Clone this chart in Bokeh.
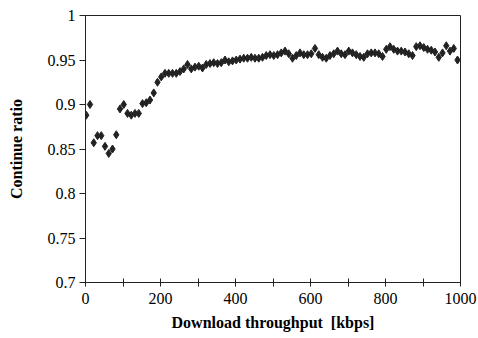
from bokeh.plotting import figure
from bokeh.models import FixedTicker, Range1d
from bokeh.embed import file_html
from bokeh.resources import INLINE

# Data
throughput_kbps = [2 + 10 * i for i in range(100)]
continue_ratio = [
    0.888, 0.900, 0.857, 0.865, 0.865, 0.853, 0.845, 0.850, 0.866, 0.895,
    0.900, 0.890, 0.888, 0.890, 0.890, 0.901, 0.902, 0.905, 0.913, 0.925,
    0.931, 0.935, 0.935, 0.935, 0.935, 0.937, 0.940, 0.945, 0.940, 0.942,
    0.943, 0.941, 0.945, 0.946, 0.947, 0.946, 0.947, 0.950, 0.948, 0.949,
    0.950, 0.951, 0.952, 0.952, 0.953, 0.952, 0.952, 0.953, 0.955, 0.956,
    0.955, 0.956, 0.958, 0.960, 0.957, 0.952, 0.955, 0.958, 0.956, 0.956,
    0.957, 0.963, 0.956, 0.953, 0.952, 0.955, 0.957, 0.960, 0.957, 0.956,
    0.960, 0.958, 0.956, 0.954, 0.953, 0.957, 0.958, 0.958, 0.957, 0.954,
    0.962, 0.965, 0.962, 0.960, 0.960, 0.959, 0.957, 0.955, 0.965, 0.966,
    0.964, 0.962, 0.961, 0.959, 0.953, 0.958, 0.966, 0.960, 0.963, 0.950,
]
x_ticks = [0, 200, 400, 600, 800, 1000]
x_minor = [100, 300, 500, 700, 900]
y_ticks = [0.7, 0.75, 0.8, 0.85, 0.9, 0.95, 1.0]
y_tick_labels = ["0.7", "0.75", "0.8", "0.85", "0.9", "0.95", "1"]

FONT = "Liberation Serif"

p = figure(width=478, height=338, output_backend="svg", toolbar_location=None,
           x_range=Range1d(0, 1000), y_range=Range1d(0.7, 1.0),
           min_border_left=85, min_border_right=18, min_border_top=15, min_border_bottom=56)
p.grid.visible = False
p.outline_line_color = "#222222"
p.outline_line_width = 1
p.background_fill_color = "white"
p.border_fill_color = "white"

p.scatter(throughput_kbps, continue_ratio, marker="diamond", size=8,
          fill_color="#222222", line_color="#222222")

xa = p.xaxis[0]
xa.ticker = FixedTicker(ticks=x_ticks, minor_ticks=x_minor)
xa.axis_label = "Download throughput\u00a0\u00a0[kbps]"
ya = p.yaxis[0]
ya.ticker = FixedTicker(ticks=y_ticks)
ya.major_label_overrides = {t: l for t, l in zip(y_ticks, y_tick_labels)}
ya.axis_label = "Continue ratio"

for ax in (xa, ya):
    ax.axis_line_color = "#222222"
    ax.major_tick_line_color = "#222222"
    ax.minor_tick_line_color = "#222222"
    ax.major_label_text_font = FONT
    ax.major_label_text_font_size = "16px"
    ax.major_label_text_color = "black"
    ax.axis_label_text_font = FONT
    ax.axis_label_text_font_size = "16px"
    ax.axis_label_text_font_style = "bold"
    ax.axis_label_text_color = "black"

xa.major_tick_in = 4
xa.major_tick_out = 4
xa.minor_tick_in = 4
xa.minor_tick_out = 4
xa.major_label_standoff = 6
xa.axis_label_standoff = 7
ya.major_tick_in = 0
ya.major_tick_out = 6
ya.minor_tick_line_color = None
ya.major_label_standoff = 4
ya.axis_label_standoff = 20

open("out.html", "w").write(file_html(p, INLINE))
